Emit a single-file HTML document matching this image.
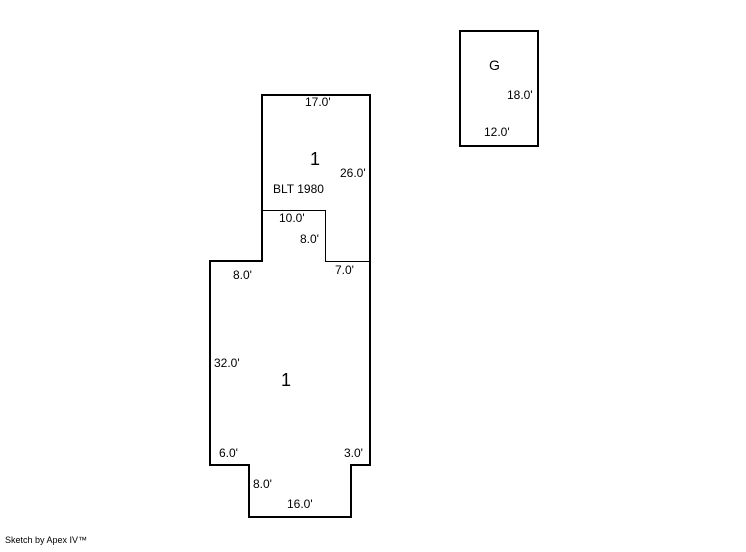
<!DOCTYPE html>
<html><head><style>
body{margin:0;background:#fff;}
svg text{font-family:"Liberation Sans",sans-serif;font-size:12px;fill:#000;}
</style></head><body>
<svg width="746" height="547" xmlns="http://www.w3.org/2000/svg">
<g fill="none" stroke="#000">
<path d="M262,95 H370 V465 H351 V517 H249 V465 H210 V261 H262 Z" stroke-width="2"/>
<path d="M262,210.5 H325.5 V261.5 H370" stroke-width="1"/>
<rect x="460" y="31" width="78" height="115" stroke-width="2"/>
</g>
<text x="305" y="106">17.0'</text>
<text x="310" y="165" style="font-size:18px">1</text>
<text x="340" y="177">26.0'</text>
<text x="273" y="193">BLT 1980</text>
<text x="279" y="222">10.0'</text>
<text x="300" y="243">8.0'</text>
<text x="335" y="274">7.0'</text>
<text x="233" y="279">8.0'</text>
<text x="214" y="367">32.0'</text>
<text x="281" y="386" style="font-size:18px">1</text>
<text x="219" y="457">6.0'</text>
<text x="344" y="457">3.0'</text>
<text x="253" y="488">8.0'</text>
<text x="287" y="508">16.0'</text>
<text x="489" y="70" style="font-size:14px">G</text>
<text x="507" y="99">18.0'</text>
<text x="484" y="136">12.0'</text>
<text x="5" y="543" style="font-size:9px">Sketch by Apex IV™</text>
</svg>
</body></html>
